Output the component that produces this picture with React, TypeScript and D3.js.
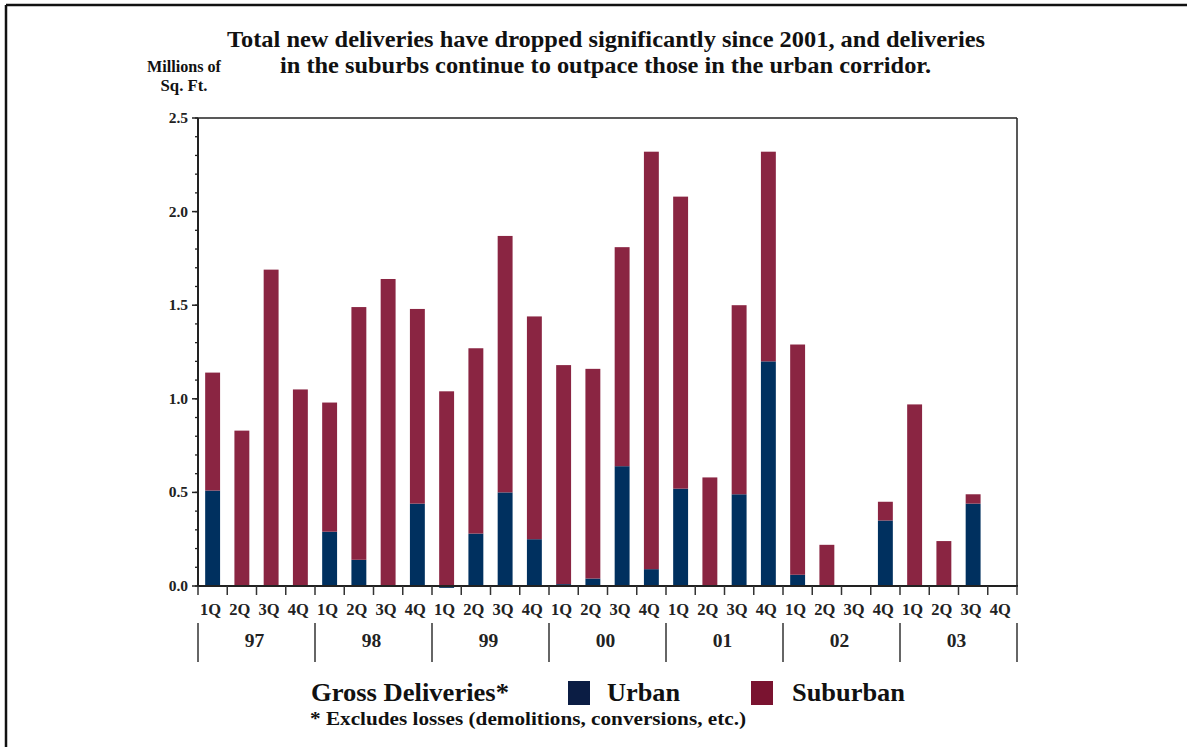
import React from "react";
import * as d3 from "d3";

const years = ["97", "98", "99", "00", "01", "02", "03"];
const quarterNames = ["1Q", "2Q", "3Q", "4Q"];
const urban = [0.51, 0, 0, 0, 0.29, 0.14, 0, 0.44, -0.01, 0.28, 0.5, 0.25, 0.01, 0.04, 0.64, 0.09, 0.52, 0, 0.49, 1.2, 0.06, 0, 0, 0.35, 0, 0, 0.44, 0];
const suburban = [0.63, 0.83, 1.69, 1.05, 0.69, 1.35, 1.64, 1.04, 1.04, 0.99, 1.37, 1.19, 1.17, 1.12, 1.17, 2.23, 1.56, 0.58, 1.01, 1.12, 1.23, 0.22, 0, 0.1, 0.97, 0.24, 0.05, 0];
const yMajorTicks = [0, 0.5, 1.0, 1.5, 2.0, 2.5];
const titleLines = [
  "Total new deliveries have dropped significantly since 2001, and deliveries",
  "in the suburbs continue to outpace those in the urban corridor.",
];

const W = 1187;
const H = 747;
const left = 198;
const right = 1017;
const top = 118;
const bottom = 586;
const FONT = "'Liberation Serif', 'Times New Roman', serif";
const URBAN_C = "#00305f";
const SUB_C = "#8a2542";

export default function App() {
  const keys: string[] = [];
  years.forEach((yr) => quarterNames.forEach((q) => keys.push(yr + "-" + q)));
  const x = d3.scaleBand<string>().domain(keys).range([left, right]).paddingInner(0.49).paddingOuter(0.245);
  const xStep = d3.scaleBand<string>().domain(keys).range([left, right]);
  const y = d3.scaleLinear().domain([0, 2.5]).range([bottom, top]);
  const yearScale = d3.scaleBand<string>().domain(years).range([left, right]);
  const minorTicks = d3.range(0, 2.51, 0.1).map((v) => Math.round(v * 10) / 10);

  return (
    <svg width={W} height={H} style={{ position: "fixed", left: 0, top: 0, background: "#fff" }} fontFamily={FONT} fontWeight="bold">
      <rect x={0} y={0} width={W} height={H} fill="#fff" />
      {/* outer frame */}
      <line x1={6} x2={W} y1={5} y2={5} stroke="#111" strokeWidth={2.5} />
      <line x1={6} x2={6} y1={5} y2={H} stroke="#111" strokeWidth={2.5} />

      {/* title */}
      {titleLines.map((t, i) => (
        <text key={i} x={i === 0 ? 227 : 280} y={i === 0 ? 47 : 73} fontSize={24} fill="#111"
          textLength={i === 0 ? 758 : 651} lengthAdjust="spacingAndGlyphs">{t}</text>
      ))}
      <text x={184} y={72} textAnchor="middle" fontSize={16} fill="#111" textLength={74} lengthAdjust="spacingAndGlyphs">Millions of</text>
      <text x={184} y={91} textAnchor="middle" fontSize={16} fill="#111" textLength={47} lengthAdjust="spacingAndGlyphs">Sq. Ft.</text>

      {/* bars */}
      {keys.map((k, i) => {
        const u = urban[i];
        const s = suburban[i];
        const base = Math.max(0, u);
        return (
          <g key={k}>
            {u !== 0 && (
              <rect x={x(k)} width={x.bandwidth()} y={y(Math.max(0, u))} height={Math.abs(y(0) - y(u))} fill={URBAN_C} />
            )}
            {s > 0 && (
              <rect x={x(k)} width={x.bandwidth()} y={y(base + s)} height={y(base) - y(base + s)} fill={SUB_C} />
            )}
          </g>
        );
      })}

      {/* plot frame */}
      <line x1={left} x2={right} y1={top} y2={top} stroke="#222" strokeWidth={1.5} />
      <line x1={right} x2={right} y1={top} y2={bottom} stroke="#222" strokeWidth={1.5} />
      <line x1={left} x2={left} y1={top} y2={bottom + 1} stroke="#222" strokeWidth={2} />
      <line x1={left - 1} x2={right + 1} y1={bottom} y2={bottom} stroke="#222" strokeWidth={2} />

      {/* y ticks */}
      {minorTicks.map((v) => (
        <line key={"m" + v} x1={left - 3} x2={left} y1={y(v)} y2={y(v)} stroke="#222" strokeWidth={1.3} />
      ))}
      {yMajorTicks.map((v) => (
        <g key={"y" + v}>
          <line x1={left - 6} x2={left} y1={y(v)} y2={y(v)} stroke="#222" strokeWidth={1.5} />
          <text x={188} y={y(v) + 5} textAnchor="end" fontSize={15.5} fill="#222">{v.toFixed(1)}</text>
        </g>
      ))}

      {/* x ticks */}
      {keys.concat(["end"]).map((k, i) => {
        const xx = i < keys.length ? (xStep(k) as number) : right;
        return <line key={"t" + i} x1={xx} x2={xx} y1={bottom} y2={bottom + 9} stroke="#333" strokeWidth={1.5} />;
      })}
      {keys.map((k, i) => (
        <text key={"q" + k} x={(xStep(k) as number) + xStep.bandwidth() / 2 - 2} y={615} textAnchor="middle" fontSize={16.5} fill="#222">
          {quarterNames[i % 4]}
        </text>
      ))}
      {years.map((yr) => (
        <text key={"yr" + yr} x={(yearScale(yr) as number) + yearScale.bandwidth() / 2 - 2} y={647} textAnchor="middle" fontSize={19.5} fill="#222">
          {yr}
        </text>
      ))}
      {years.concat(["end"]).map((yr, i) => {
        const xx = i < years.length ? (yearScale(yr) as number) : right;
        return <line key={"ys" + i} x1={xx} x2={xx} y1={623} y2={662} stroke="#333" strokeWidth={1.5} />;
      })}

      {/* legend */}
      <text x={311} y={701} fontSize={26} fill="#111" textLength={198} lengthAdjust="spacingAndGlyphs">Gross Deliveries*</text>
      <rect x={568} y={681} width={22} height={24} fill="#0b1d44" />
      <text x={607} y={701} fontSize={26} fill="#111" textLength={73} lengthAdjust="spacingAndGlyphs">Urban</text>
      <rect x={751} y={681} width={22} height={24} fill="#7a1330" />
      <text x={792} y={701} fontSize={26} fill="#111" textLength={113} lengthAdjust="spacingAndGlyphs">Suburban</text>
      <text x={310} y={725} fontSize={18} fill="#111" textLength={436} lengthAdjust="spacingAndGlyphs">* Excludes losses (demolitions, conversions, etc.)</text>
    </svg>
  );
}
